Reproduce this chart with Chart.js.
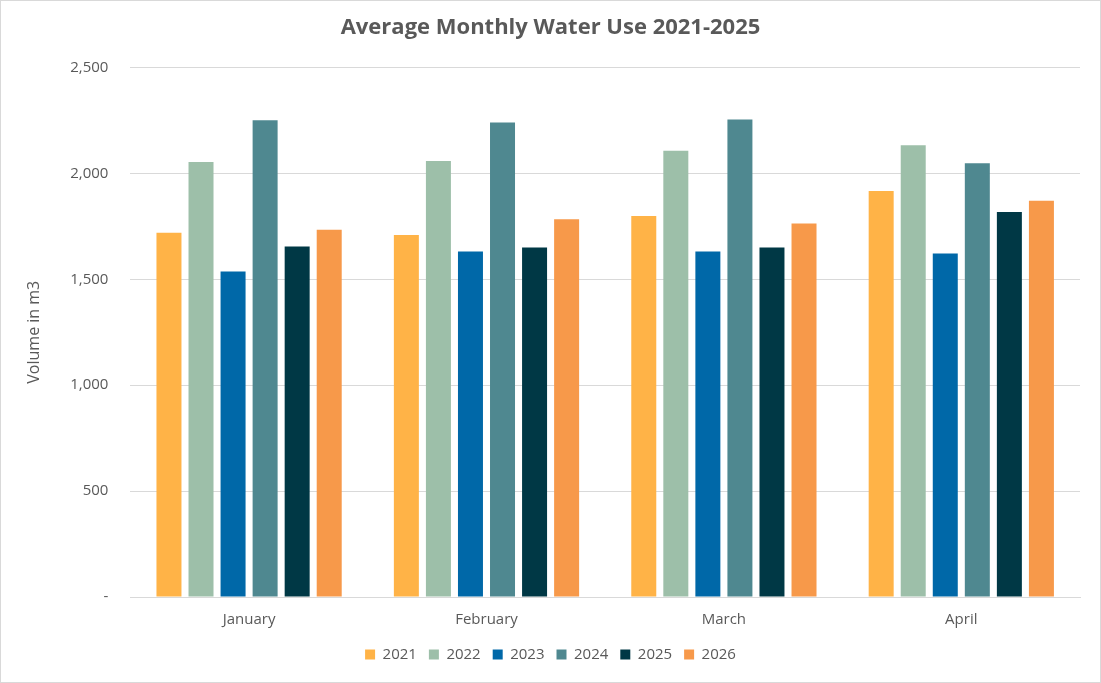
<!DOCTYPE html>
<html><head><meta charset="utf-8">
<script src="https://cdn.jsdelivr.net/npm/chart.js@4"></script>
<style>
html,body{margin:0;padding:0;background:#fff;}
#wrap{position:absolute;left:0;top:0;width:1099px;height:681px;border:1px solid #d9d9d9;}
</style></head><body>
<div id="wrap"><canvas id="c" width="1099" height="681"></canvas></div>
<script>
const categories = ["January","February","March","April"];
const years = ["2021","2022","2023","2024","2025","2026"];
const v2021 = [1719,1709,1798,1916];
const v2022 = [2053,2058,2107,2132];
const v2023 = [1537,1631,1631,1621];
const v2024 = [2250,2240,2254,2048];
const v2025 = [1655,1650,1650,1817];
const v2026 = [1734,1783,1763,1871];
const colors = ["#FFB347","#9DBFA9","#0068A8","#4F8890","#003845","#F7994A"];
const series = [v2021,v2022,v2023,v2024,v2025,v2026];
Chart.defaults.font.family = "'Open Sans', sans-serif";
Chart.defaults.color = "#595959";
new Chart(document.getElementById('c'), {
  type: 'bar',
  data: { labels: categories,
    datasets: series.map((d,i)=>({label: years[i], data: d, backgroundColor: colors[i],
      categoryPercentage: 0.81, barPercentage: 0.78})) },
  options: {
    responsive: false, animation: false,
    layout: { padding: { left: 20, right: 20, top: 10, bottom: 10 } },
    plugins: {
      title: { display: true, text: "Average Monthly Water Use 2021-2025", font: { size: 22 }, color: "#595959", padding: { top: 4, bottom: 26 } },
      legend: { position: 'bottom', labels: { boxWidth: 10, boxHeight: 10, font: { size: 15 }, padding: 12 } },
      tooltip: { enabled: false }
    },
    scales: {
      x: { grid: { display: false }, border: { color: "#d9d9d9" }, ticks: { font: { size: 15 }, padding: 6 } },
      y: { min: 0, max: 2500, ticks: { stepSize: 500, font: { size: 15 }, padding: 22,
             callback: v => v === 0 ? "-" : v.toLocaleString('en-US') },
           grid: { color: "#d9d9d9", drawTicks: false }, border: { display: false },
           title: { display: true, text: "Volume in m3", font: { size: 16 }, color: "#595959" } }
    }
  }
});
</script></body></html>
